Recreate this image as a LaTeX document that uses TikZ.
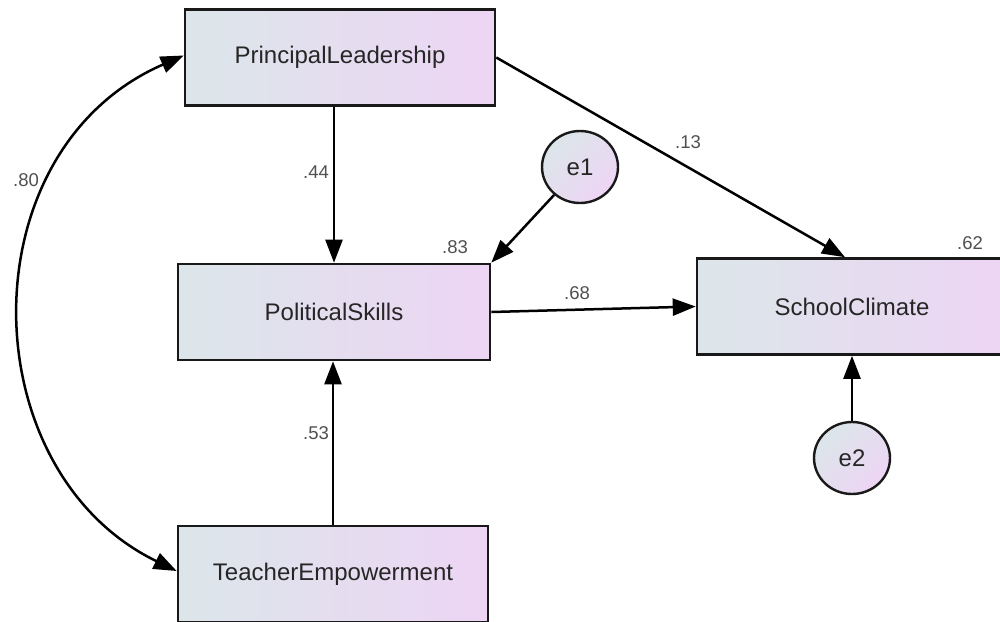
\documentclass[tikz,border=0pt]{standalone}
\usepackage{fontspec}
\setmainfont{Liberation Sans}
\usetikzlibrary{arrows.meta,shapes.geometric}
\definecolor{fillA}{RGB}{220,230,234}
\definecolor{fillB}{RGB}{237,213,244}
\definecolor{edgecol}{RGB}{25,25,25}
\definecolor{labcol}{RGB}{80,80,80}
\begin{document}
\begin{tikzpicture}[x=1pt,y=-1pt,
  varbox/.style={draw=edgecol,line width=2.6pt,left color=fillA,right color=fillB,
    inner sep=0pt,minimum width=#1,minimum height=96pt,
    font=\fontsize{24}{28}\selectfont,text=black!85},
  varbox/.default=310pt,
  errnode/.style={draw=edgecol,line width=2.4pt,ellipse,top color=fillA,bottom color=fillB,
    shading angle=45,inner sep=0pt,minimum width=76pt,minimum height=72pt,
    font=\fontsize{24}{28}\selectfont,text=black!85},
  path/.style={draw=black,line width=2.5pt,-{Triangle[length=23pt,width=17pt]}},
  coef/.style={font=\fontsize{18.5}{22}\selectfont,text=labcol,inner sep=0pt}]
\clip (0,0) rectangle (1000,621);
\fill[white] (0,0) rectangle (1000,621);

% observed variables
\node[varbox] (PL) at (340,57.5) {PrincipalLeadership};
\node[varbox=312pt] (PS) at (334,312) {PoliticalSkills};
\node[varbox] (TE) at (333,574) {TeacherEmpowerment};
\node[varbox] (SC) at (852,306.5) {SchoolClimate};

% error terms
\node[errnode] (e1) at (580,167) {e1};
\node[errnode] (e2) at (852,458) {e2};

% regression paths
\draw[path] (PS.north |- PL.south) -- (PS.north);
\draw[path] (TE.north) -- (TE.north |- PS.south);
\draw[path] (PL.east) -- ([xshift=-7pt]SC.north);
\draw[path] (PS.east) -- (SC.west);
\draw[path] (e1) -- (PS.north east);
\draw[path] (e2) -- (e2 |- SC.south);

% covariance between exogenous variables
\draw[line width=2.5pt,{Triangle[length=23pt,width=17pt]}-{Triangle[length=23pt,width=17pt]}]
  ([yshift=2pt]PL.west) .. controls +(-218,95) and +(-206,-100) .. ([yshift=3pt]TE.west);

% coefficients
\node[coef] (c44) at (316,172) {.44};
\node[coef] (c13) at (688,142) {.13};
\node[coef] (c83) at (455,247) {.83};
\node[coef] (c68) at (577,293) {.68};
\node[coef] (c62) at (970,243) {.62};
\node[coef] (c53) at (316,433) {.53};
\node[coef] (c80) at (26,180) {.80};
\end{tikzpicture}
\end{document}
